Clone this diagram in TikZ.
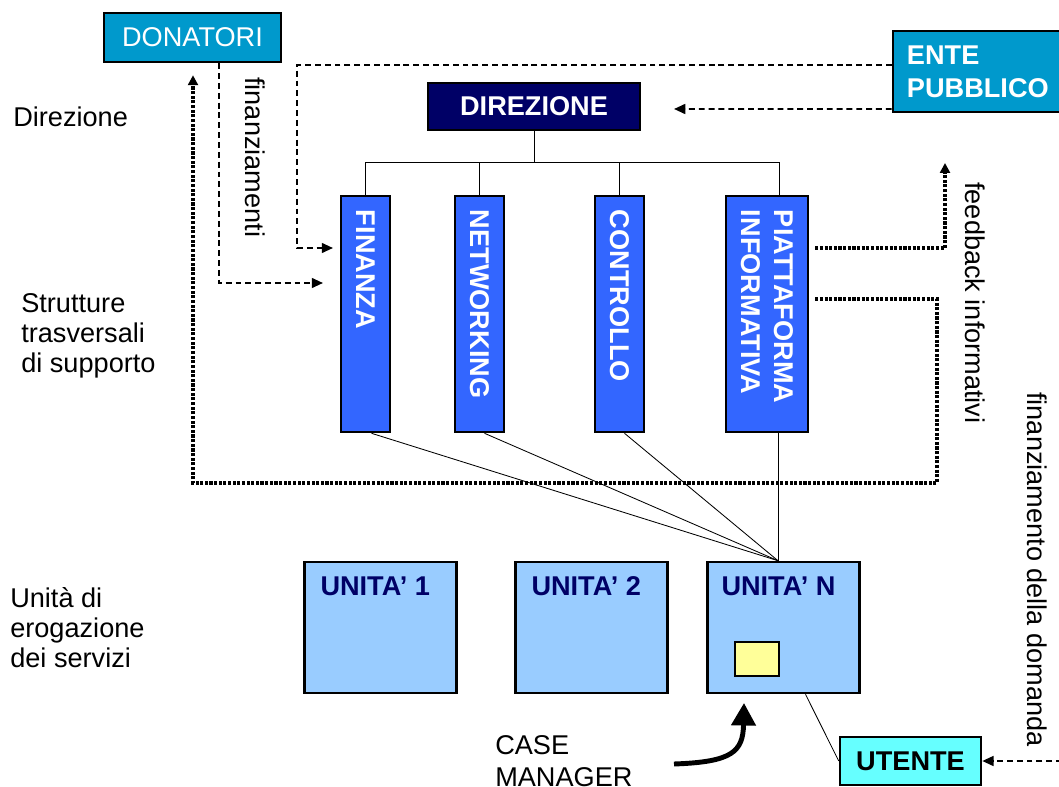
\documentclass[tikz,border=0pt]{standalone}
\usepackage{fontspec}
\setmainfont{Liberation Sans}
\usetikzlibrary{arrows.meta,calc}

\definecolor{donblue}{HTML}{0099CC}
\definecolor{dirnavy}{HTML}{000066}
\definecolor{colblue}{HTML}{3366FF}
\definecolor{unitblue}{HTML}{99CCFF}
\definecolor{cmyellow}{HTML}{FFFF99}
\definecolor{usercyan}{HTML}{66FFFF}

\tikzset{
  box/.style={draw=black, line width=1.8pt, inner sep=0pt},
  txt/.style={font=\fontsize{19.3}{21.5}\selectfont},
  boldtxt/.style={font=\fontsize{19.3}{23.4}\selectfont\bfseries},
  colbox/.style={box, fill=colblue, text=white, boldtxt, rotate=-90,
    minimum width=5.9cm, text width=5.2cm, align=left, inner xsep=0.35cm},
  unitbox/.style={box, fill=unitblue, minimum width=3.8cm, minimum height=3.275cm},
  unittxt/.style={boldtxt, text=dirnavy, inner sep=0pt, anchor=north west},
  tree/.style={line width=0.6pt},
  flow/.style={line width=1.4pt, dash pattern=on 4.2pt off 2.8pt,
    -{Triangle[length=8pt,width=7pt]}},
  feed/.style={line width=2.4pt, dash pattern=on 2.2pt off 1.1pt,
    -{Triangle[length=7pt,width=7pt]}},
}

\begin{document}
\begin{tikzpicture}[x=0.025cm, y=-0.025cm]
  \useasboundingbox (0,0) rectangle (1059,787);

  % left labels
  \node[txt, anchor=north west, inner sep=0pt] (lbldir) at (13,107) {Direzione};
  \node[txt, align=left, anchor=north west, inner sep=0pt] (lblstr) at (21,293) {Strutture\\trasversali\\di supporto};
  \node[txt, align=left, anchor=north west, inner sep=0pt] (lbluni) at (10,587) {Unità di\\erogazione\\dei servizi};

  % top boxes
  \node[box, fill=donblue, text=white, txt, minimum width=4.425cm, minimum height=1.225cm] (don) at (192.5,37.5) {DONATORI};
  \node[box, fill=donblue, text=white, boldtxt, minimum height=2.025cm, text width=3.85cm, inner xsep=0.35cm, align=left] (ente) at (984,71.5) {ENTE\\PUBBLICO};
  \node[box, fill=dirnavy, text=white, boldtxt, minimum width=5.3cm, minimum height=1.175cm] (dir) at (534,106.5) {DIREZIONE};

  % support columns
  \node[colbox, minimum height=1.225cm] (fin) at (365.5,314) {FINANZA};
  \node[colbox, minimum height=1.225cm] (net) at (479.5,314) {NETWORKING};
  \node[colbox, minimum height=1.225cm] (con) at (619.5,314) {CONTROLLO};
  \node[colbox, minimum height=2.05cm] (pia) at (767,314) {PIATTAFORMA\\INFORMATIVA};

  % units
  \node[unitbox] (u1) at (380.5,627.5) {};
  \node[unitbox] (u2) at (591.5,627.5) {};
  \node[unitbox] (uN) at (783.5,627.5) {};
  \node[unittxt] (u1t) at ($(u1.north west)+(17,16)$) {UNITA’ 1};
  \node[unittxt] (u2t) at ($(u2.north west)+(17,16)$) {UNITA’ 2};
  \node[unittxt] (uNt) at ($(uN.north west)+(15,16)$) {UNITA’ N};
  \node[draw, line width=0.8pt, fill=cmyellow, minimum width=1.1cm, minimum height=0.85cm, inner sep=0pt] (cm) at (757,659) {};
  \node[box, fill=usercyan, boldtxt, minimum width=3.525cm, minimum height=1.2cm] (ut) at (910.5,761) {UTENTE};

  \node[txt, align=left, anchor=north west, inner sep=0pt, font=\fontsize{19.3}{22.7}\selectfont] (cmlbl) at (495,735) {CASE\\MANAGER};

  % rotated labels
  \node[txt, rotate=-90, anchor=west, inner sep=0pt] (finlbl) at (255,77) {finanziamenti};
  \node[txt, rotate=-90, anchor=west, inner sep=0pt] (fbl) at (975,182) {feedback informativi};
  \node[txt, rotate=-90, anchor=west, inner sep=0pt] (domlbl) at (1037,392) {finanziamento della domanda};

  % tree
  \coordinate (bus) at (534,162);
  \coordinate (piatop) at ($(pia.west)+(12,0)$);
  \coordinate (piabot) at ($(pia.east)+(11,0)$);
  \coordinate (hub) at ($(uN.north)+(-5.5,0)$);
  \draw[tree] (dir.south) -- (bus);
  \draw[tree] (fin.west) -- (fin.west |- bus) -- (piatop |- bus) -- (piatop);
  \draw[tree] (net.west) -- (net.west |- bus);
  \draw[tree] (con.west) -- (con.west |- bus);
  \draw[tree] ($(fin.east)+(6,0)$) -- (hub);
  \draw[tree] ($(net.east)+(5,0)$) -- (hub);
  \draw[tree] ($(con.east)+(5,0)$) -- (hub);
  \draw[tree] (piabot) -- (hub);
  \draw[tree] ($(uN.south)+(22,0)$) -- (ut.west);

  % money flows
  \coordinate (finin1) at (323,283);
  \coordinate (finin2) at (333,248);
  \coordinate (dirin) at (674,109);
  \coordinate (rightin) at (1062,761);
  \draw[flow] ($(don.south)+(26.5,0)$) |- (finin1);
  \draw[flow] ($(ente.west)+(0,-6.5)$) -- (297,65) |- (finin2);
  \draw[flow] ($(ente.west)+(0,37.5)$) -- (dirin);
  \draw[flow] (rightin) -- (ut.east);

  % feedback
  \coordinate (fbtip) at (945,163);
  \coordinate (dontip) at ($(don.south)+(0.5,12)$);
  \draw[feed] ($(pia.north)+(6,-66)$) -| (fbtip);
  \draw[feed] ($(pia.north)+(6,-15)$) -- (937,299) -- (937,483) -| (dontip);

  % case manager arrow
  \coordinate (cmtail) at (674,764);
  \coordinate (cmtip) at (744,703);
  \draw[line width=3.5pt, -{Triangle[length=16pt,width=17pt]}] (cmtail) .. controls (732,762) and (743,752) .. (cmtip);
\end{tikzpicture}
\end{document}
